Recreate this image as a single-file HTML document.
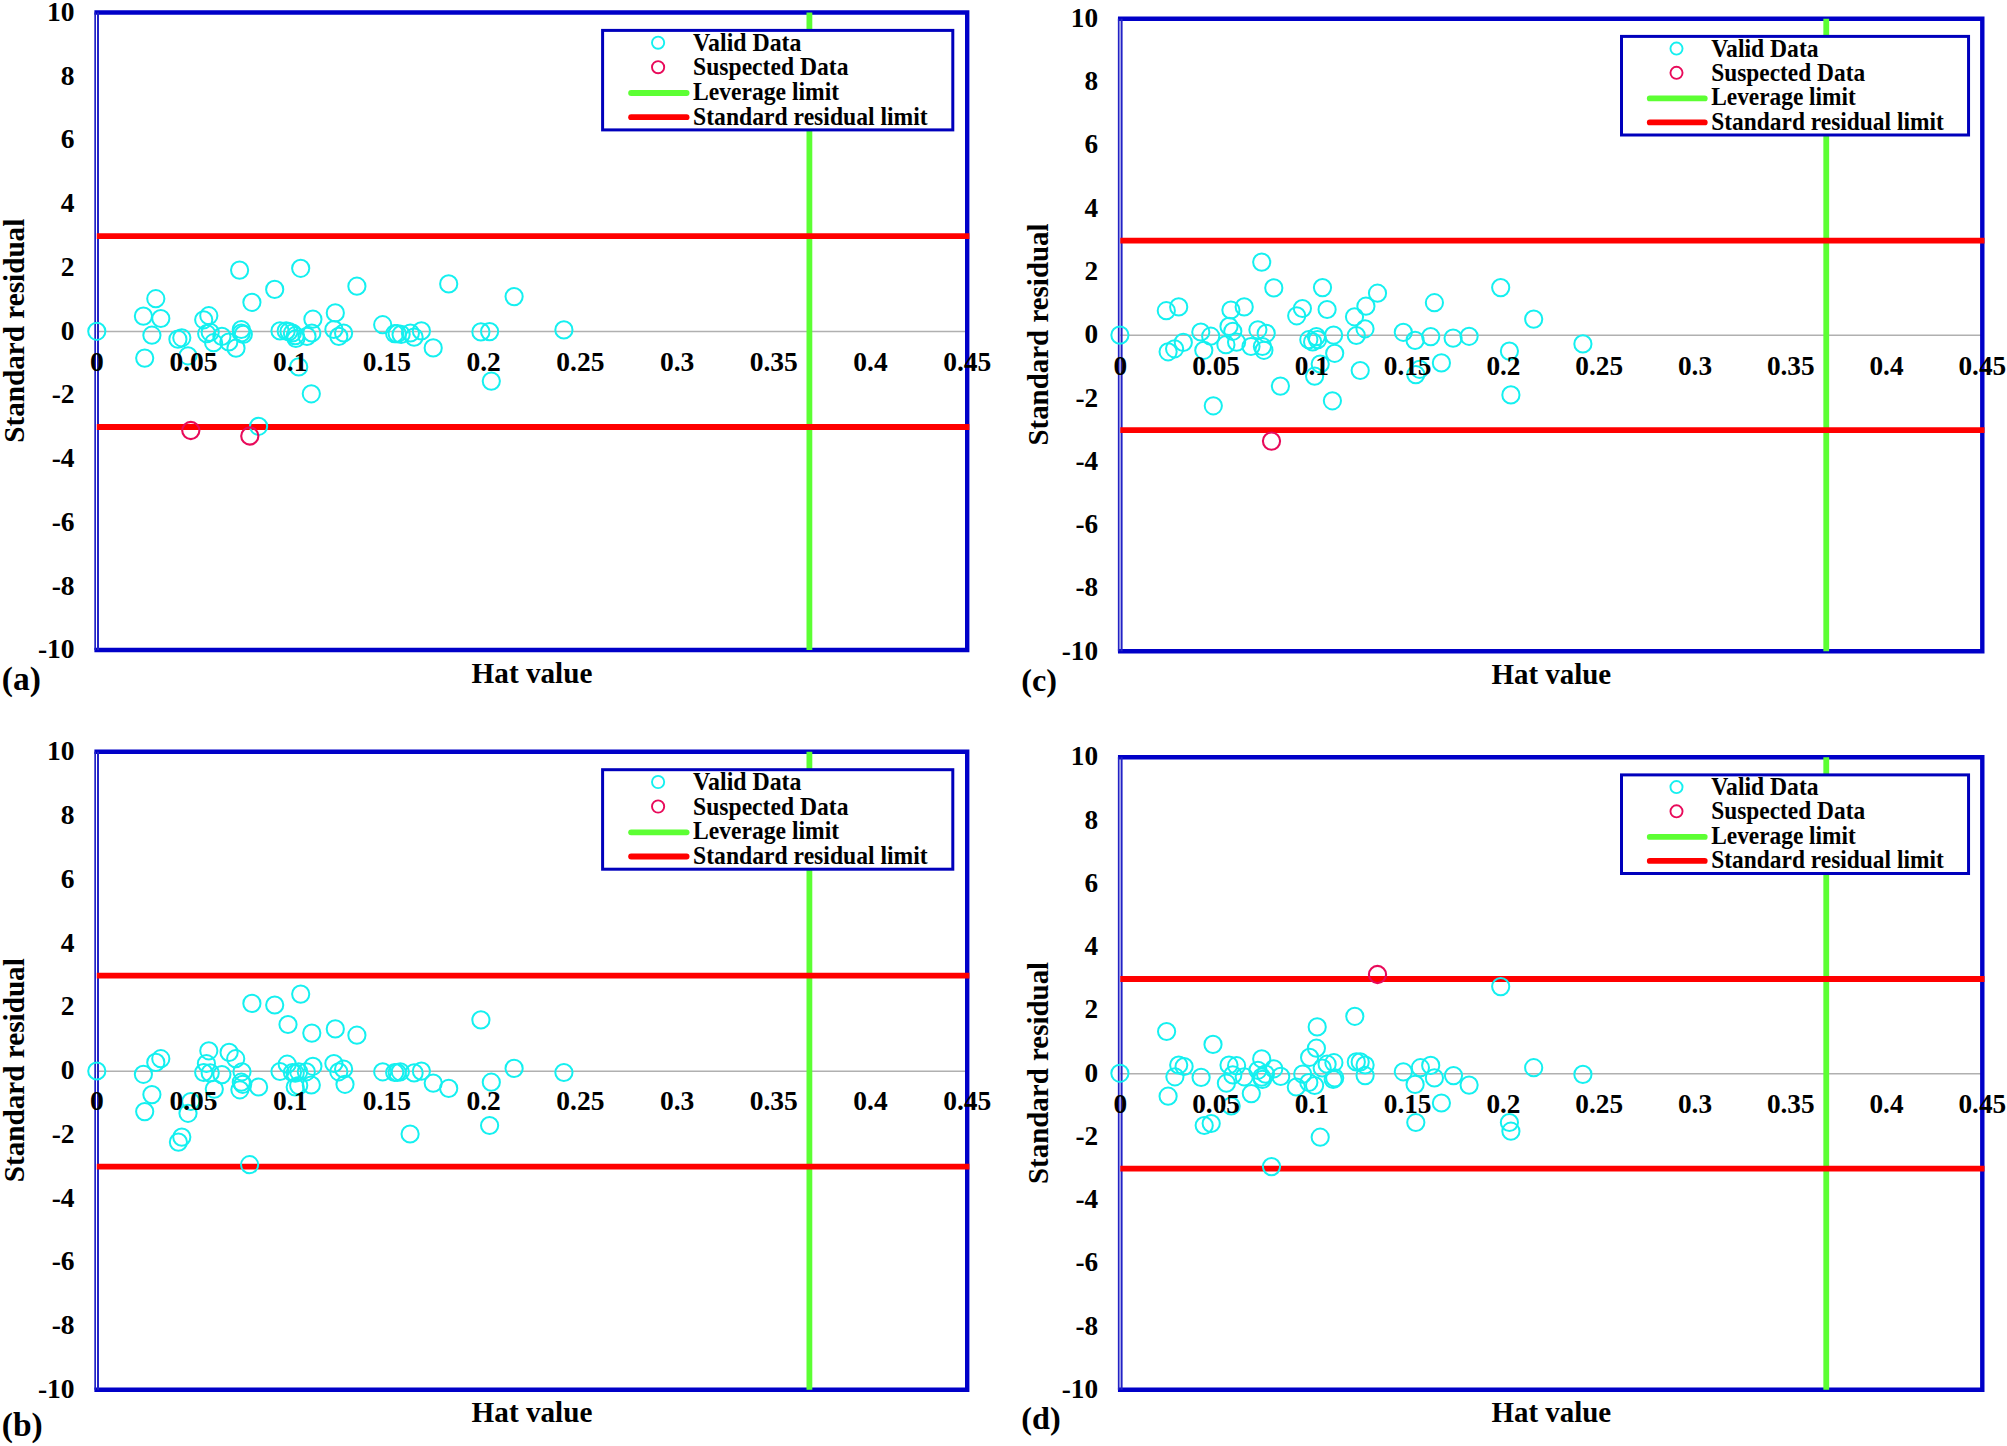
<!DOCTYPE html>
<html lang="en"><head><meta charset="utf-8"><title>Standard residual vs Hat value</title>
<style>html,body{margin:0;padding:0;background:#fff}svg{display:block}</style></head>
<body>
<svg width="2007" height="1446" viewBox="0 0 2007 1446" font-family='"Liberation Serif", "DejaVu Serif", serif' font-weight="bold" fill="#000">
<rect width="2007" height="1446" fill="#fff"/>
<g id="panel-a">
<line x1="96.8" y1="331.55" x2="967.2" y2="331.55" stroke="#B0B0B0" stroke-width="1.5"/>
<path d="M94.4 12.5H967.2V650H94.4" fill="none" stroke="#0000C8" stroke-width="4.4" stroke-linejoin="miter"/>
<line x1="95.15" y1="12.5" x2="95.15" y2="650" stroke="#2222C6" stroke-width="1.7"/>
<line x1="98" y1="12.5" x2="98" y2="650" stroke="#2222C6" stroke-width="2"/>
<line x1="809.4" y1="12.5" x2="809.4" y2="650" stroke="#5CFF33" stroke-width="5.8"/>
<line x1="96.8" y1="236.09" x2="969.4" y2="236.09" stroke="#FF0000" stroke-width="5.8"/>
<line x1="96.8" y1="427.01" x2="969.4" y2="427.01" stroke="#FF0000" stroke-width="5.8"/>
<circle cx="96.8" cy="331.3" r="8.6" fill="none" stroke="#14F0F0" stroke-width="2"/>
<circle cx="155.8" cy="298.7" r="8.6" fill="none" stroke="#14F0F0" stroke-width="2"/>
<circle cx="143.4" cy="316.1" r="8.6" fill="none" stroke="#14F0F0" stroke-width="2"/>
<circle cx="160.8" cy="318.5" r="8.6" fill="none" stroke="#14F0F0" stroke-width="2"/>
<circle cx="151.9" cy="335.2" r="8.6" fill="none" stroke="#14F0F0" stroke-width="2"/>
<circle cx="144.7" cy="358.1" r="8.6" fill="none" stroke="#14F0F0" stroke-width="2"/>
<circle cx="177.9" cy="339.2" r="8.6" fill="none" stroke="#14F0F0" stroke-width="2"/>
<circle cx="181.8" cy="337.8" r="8.6" fill="none" stroke="#14F0F0" stroke-width="2"/>
<circle cx="188" cy="355.8" r="8.6" fill="none" stroke="#14F0F0" stroke-width="2"/>
<circle cx="203.7" cy="319.8" r="8.6" fill="none" stroke="#14F0F0" stroke-width="2"/>
<circle cx="208.8" cy="315.7" r="8.6" fill="none" stroke="#14F0F0" stroke-width="2"/>
<circle cx="206.7" cy="333.7" r="8.6" fill="none" stroke="#14F0F0" stroke-width="2"/>
<circle cx="210.2" cy="332.3" r="8.6" fill="none" stroke="#14F0F0" stroke-width="2"/>
<circle cx="213.6" cy="342.7" r="8.6" fill="none" stroke="#14F0F0" stroke-width="2"/>
<circle cx="221.9" cy="336.4" r="8.6" fill="none" stroke="#14F0F0" stroke-width="2"/>
<circle cx="228.8" cy="342" r="8.6" fill="none" stroke="#14F0F0" stroke-width="2"/>
<circle cx="236" cy="348.2" r="8.6" fill="none" stroke="#14F0F0" stroke-width="2"/>
<circle cx="239.6" cy="270.1" r="8.6" fill="none" stroke="#14F0F0" stroke-width="2"/>
<circle cx="241.3" cy="329.5" r="8.6" fill="none" stroke="#14F0F0" stroke-width="2"/>
<circle cx="241.3" cy="333" r="8.6" fill="none" stroke="#14F0F0" stroke-width="2"/>
<circle cx="243.3" cy="334.4" r="8.6" fill="none" stroke="#14F0F0" stroke-width="2"/>
<circle cx="251.9" cy="302.3" r="8.6" fill="none" stroke="#14F0F0" stroke-width="2"/>
<circle cx="274.7" cy="289.4" r="8.6" fill="none" stroke="#14F0F0" stroke-width="2"/>
<circle cx="300.7" cy="268.3" r="8.6" fill="none" stroke="#14F0F0" stroke-width="2"/>
<circle cx="280" cy="330.9" r="8.6" fill="none" stroke="#14F0F0" stroke-width="2"/>
<circle cx="286.2" cy="330.9" r="8.6" fill="none" stroke="#14F0F0" stroke-width="2"/>
<circle cx="289" cy="331.6" r="8.6" fill="none" stroke="#14F0F0" stroke-width="2"/>
<circle cx="292.4" cy="333" r="8.6" fill="none" stroke="#14F0F0" stroke-width="2"/>
<circle cx="295.2" cy="335.7" r="8.6" fill="none" stroke="#14F0F0" stroke-width="2"/>
<circle cx="295.9" cy="338.5" r="8.6" fill="none" stroke="#14F0F0" stroke-width="2"/>
<circle cx="298.7" cy="366.9" r="8.6" fill="none" stroke="#14F0F0" stroke-width="2"/>
<circle cx="307" cy="336.4" r="8.6" fill="none" stroke="#14F0F0" stroke-width="2"/>
<circle cx="311.8" cy="333" r="8.6" fill="none" stroke="#14F0F0" stroke-width="2"/>
<circle cx="312.9" cy="319.2" r="8.6" fill="none" stroke="#14F0F0" stroke-width="2"/>
<circle cx="311.3" cy="393.8" r="8.6" fill="none" stroke="#14F0F0" stroke-width="2"/>
<circle cx="335.3" cy="312.9" r="8.6" fill="none" stroke="#14F0F0" stroke-width="2"/>
<circle cx="333.9" cy="329.5" r="8.6" fill="none" stroke="#14F0F0" stroke-width="2"/>
<circle cx="338.8" cy="336.4" r="8.6" fill="none" stroke="#14F0F0" stroke-width="2"/>
<circle cx="343.6" cy="333" r="8.6" fill="none" stroke="#14F0F0" stroke-width="2"/>
<circle cx="258.6" cy="426.3" r="8.6" fill="none" stroke="#14F0F0" stroke-width="2"/>
<circle cx="356.9" cy="286.2" r="8.6" fill="none" stroke="#14F0F0" stroke-width="2"/>
<circle cx="382.7" cy="324.7" r="8.6" fill="none" stroke="#14F0F0" stroke-width="2"/>
<circle cx="394.7" cy="333.7" r="8.6" fill="none" stroke="#14F0F0" stroke-width="2"/>
<circle cx="397.2" cy="333.7" r="8.6" fill="none" stroke="#14F0F0" stroke-width="2"/>
<circle cx="401.1" cy="334.4" r="8.6" fill="none" stroke="#14F0F0" stroke-width="2"/>
<circle cx="410.4" cy="333" r="8.6" fill="none" stroke="#14F0F0" stroke-width="2"/>
<circle cx="414.1" cy="337.1" r="8.6" fill="none" stroke="#14F0F0" stroke-width="2"/>
<circle cx="421.4" cy="330.9" r="8.6" fill="none" stroke="#14F0F0" stroke-width="2"/>
<circle cx="433.2" cy="347.9" r="8.6" fill="none" stroke="#14F0F0" stroke-width="2"/>
<circle cx="448.7" cy="283.9" r="8.6" fill="none" stroke="#14F0F0" stroke-width="2"/>
<circle cx="480.9" cy="331.9" r="8.6" fill="none" stroke="#14F0F0" stroke-width="2"/>
<circle cx="489.6" cy="331.6" r="8.6" fill="none" stroke="#14F0F0" stroke-width="2"/>
<circle cx="491.3" cy="381.1" r="8.6" fill="none" stroke="#14F0F0" stroke-width="2"/>
<circle cx="514.1" cy="296.6" r="8.6" fill="none" stroke="#14F0F0" stroke-width="2"/>
<circle cx="563.9" cy="329.9" r="8.6" fill="none" stroke="#14F0F0" stroke-width="2"/>
<circle cx="190.8" cy="430.5" r="8.6" fill="none" stroke="#E80A5A" stroke-width="2.1"/>
<circle cx="249.8" cy="436" r="8.6" fill="none" stroke="#E80A5A" stroke-width="2.1"/>
<text x="74.6" y="20.84" font-size="27.5" text-anchor="end">10</text>
<text x="74.6" y="84.59" font-size="27.5" text-anchor="end">8</text>
<text x="74.6" y="148.34" font-size="27.5" text-anchor="end">6</text>
<text x="74.6" y="212.09" font-size="27.5" text-anchor="end">4</text>
<text x="74.6" y="275.85" font-size="27.5" text-anchor="end">2</text>
<text x="74.6" y="339.6" font-size="27.5" text-anchor="end">0</text>
<text x="74.6" y="403.35" font-size="27.5" text-anchor="end">-2</text>
<text x="74.6" y="467.1" font-size="27.5" text-anchor="end">-4</text>
<text x="74.6" y="530.85" font-size="27.5" text-anchor="end">-6</text>
<text x="74.6" y="594.6" font-size="27.5" text-anchor="end">-8</text>
<text x="74.6" y="658.35" font-size="27.5" text-anchor="end">-10</text>
<text x="96.8" y="370.85" font-size="27.5" text-anchor="middle">0</text>
<text x="193.51" y="370.85" font-size="27.5" text-anchor="middle">0.05</text>
<text x="290.22" y="370.85" font-size="27.5" text-anchor="middle">0.1</text>
<text x="386.93" y="370.85" font-size="27.5" text-anchor="middle">0.15</text>
<text x="483.64" y="370.85" font-size="27.5" text-anchor="middle">0.2</text>
<text x="580.36" y="370.85" font-size="27.5" text-anchor="middle">0.25</text>
<text x="677.07" y="370.85" font-size="27.5" text-anchor="middle">0.3</text>
<text x="773.78" y="370.85" font-size="27.5" text-anchor="middle">0.35</text>
<text x="870.49" y="370.85" font-size="27.5" text-anchor="middle">0.4</text>
<text x="967.2" y="370.85" font-size="27.5" text-anchor="middle">0.45</text>
<text x="532" y="682.6" font-size="29.2" text-anchor="middle">Hat value</text>
<text transform="translate(24.4 330.75) rotate(-90)" font-size="29.2" text-anchor="middle">Standard residual</text>
<text x="1.8" y="690.2" font-size="33.5">(a)</text>
<rect x="602.6" y="30.4" width="350.2" height="99.5" fill="#fff" stroke="#0000BC" stroke-width="3"/>
<circle cx="658.1" cy="42.7" r="6.1" fill="none" stroke="#14F0F0" stroke-width="1.9"/>
<circle cx="658.1" cy="67.2" r="6.1" fill="none" stroke="#E80A5A" stroke-width="1.9"/>
<line x1="631.1" y1="93" x2="686.6" y2="93" stroke="#5CFF33" stroke-width="5.8" stroke-linecap="round"/>
<line x1="631.1" y1="117.2" x2="686.6" y2="117.2" stroke="#FF0000" stroke-width="5.8" stroke-linecap="round"/>
<text transform="translate(693.1 50.7) scale(0.9235 1)" font-size="25.8">Valid Data</text>
<text transform="translate(693.1 75.3) scale(0.9148 1)" font-size="25.8">Suspected Data</text>
<text transform="translate(693.1 99.9) scale(0.9138 1)" font-size="25.8">Leverage limit</text>
<text transform="translate(693.1 124.5) scale(0.9163 1)" font-size="25.8">Standard residual limit</text>
</g>
<g id="panel-b">
<line x1="96.8" y1="1071.15" x2="967.2" y2="1071.15" stroke="#B0B0B0" stroke-width="1.5"/>
<path d="M94.4 751.8H967.2V1389.7H94.4" fill="none" stroke="#0000C8" stroke-width="4.4" stroke-linejoin="miter"/>
<line x1="95.15" y1="751.8" x2="95.15" y2="1389.7" stroke="#2222C6" stroke-width="1.7"/>
<line x1="98" y1="751.8" x2="98" y2="1389.7" stroke="#2222C6" stroke-width="2"/>
<line x1="809.4" y1="751.8" x2="809.4" y2="1389.7" stroke="#5CFF33" stroke-width="5.8"/>
<line x1="96.8" y1="975.6" x2="969.4" y2="975.6" stroke="#FF0000" stroke-width="5.8"/>
<line x1="96.8" y1="1166.7" x2="969.4" y2="1166.7" stroke="#FF0000" stroke-width="5.8"/>
<circle cx="96.8" cy="1071" r="8.6" fill="none" stroke="#14F0F0" stroke-width="2"/>
<circle cx="143.4" cy="1074.3" r="8.6" fill="none" stroke="#14F0F0" stroke-width="2"/>
<circle cx="155.8" cy="1062.4" r="8.6" fill="none" stroke="#14F0F0" stroke-width="2"/>
<circle cx="160.8" cy="1058.7" r="8.6" fill="none" stroke="#14F0F0" stroke-width="2"/>
<circle cx="151.9" cy="1094.6" r="8.6" fill="none" stroke="#14F0F0" stroke-width="2"/>
<circle cx="144.7" cy="1111.6" r="8.6" fill="none" stroke="#14F0F0" stroke-width="2"/>
<circle cx="188" cy="1113.3" r="8.6" fill="none" stroke="#14F0F0" stroke-width="2"/>
<circle cx="190.8" cy="1101.5" r="8.6" fill="none" stroke="#14F0F0" stroke-width="2"/>
<circle cx="181.8" cy="1137.1" r="8.6" fill="none" stroke="#14F0F0" stroke-width="2"/>
<circle cx="178.4" cy="1142.1" r="8.6" fill="none" stroke="#14F0F0" stroke-width="2"/>
<circle cx="208.8" cy="1050.8" r="8.6" fill="none" stroke="#14F0F0" stroke-width="2"/>
<circle cx="206.4" cy="1063.5" r="8.6" fill="none" stroke="#14F0F0" stroke-width="2"/>
<circle cx="203.7" cy="1072.5" r="8.6" fill="none" stroke="#14F0F0" stroke-width="2"/>
<circle cx="210.2" cy="1072.9" r="8.6" fill="none" stroke="#14F0F0" stroke-width="2"/>
<circle cx="214.3" cy="1089.1" r="8.6" fill="none" stroke="#14F0F0" stroke-width="2"/>
<circle cx="221.9" cy="1074.6" r="8.6" fill="none" stroke="#14F0F0" stroke-width="2"/>
<circle cx="229.1" cy="1052.4" r="8.6" fill="none" stroke="#14F0F0" stroke-width="2"/>
<circle cx="235.7" cy="1058.7" r="8.6" fill="none" stroke="#14F0F0" stroke-width="2"/>
<circle cx="242" cy="1071.8" r="8.6" fill="none" stroke="#14F0F0" stroke-width="2"/>
<circle cx="241.3" cy="1082.2" r="8.6" fill="none" stroke="#14F0F0" stroke-width="2"/>
<circle cx="242.7" cy="1084.3" r="8.6" fill="none" stroke="#14F0F0" stroke-width="2"/>
<circle cx="239.9" cy="1089.8" r="8.6" fill="none" stroke="#14F0F0" stroke-width="2"/>
<circle cx="258.6" cy="1087" r="8.6" fill="none" stroke="#14F0F0" stroke-width="2"/>
<circle cx="251.9" cy="1003.4" r="8.6" fill="none" stroke="#14F0F0" stroke-width="2"/>
<circle cx="274.7" cy="1005" r="8.6" fill="none" stroke="#14F0F0" stroke-width="2"/>
<circle cx="300.7" cy="994.1" r="8.6" fill="none" stroke="#14F0F0" stroke-width="2"/>
<circle cx="288" cy="1024.5" r="8.6" fill="none" stroke="#14F0F0" stroke-width="2"/>
<circle cx="311.8" cy="1033.1" r="8.6" fill="none" stroke="#14F0F0" stroke-width="2"/>
<circle cx="335.3" cy="1028.9" r="8.6" fill="none" stroke="#14F0F0" stroke-width="2"/>
<circle cx="280" cy="1071.5" r="8.6" fill="none" stroke="#14F0F0" stroke-width="2"/>
<circle cx="287.2" cy="1064.2" r="8.6" fill="none" stroke="#14F0F0" stroke-width="2"/>
<circle cx="292.4" cy="1072.5" r="8.6" fill="none" stroke="#14F0F0" stroke-width="2"/>
<circle cx="295.2" cy="1073.2" r="8.6" fill="none" stroke="#14F0F0" stroke-width="2"/>
<circle cx="298.7" cy="1071.8" r="8.6" fill="none" stroke="#14F0F0" stroke-width="2"/>
<circle cx="306.3" cy="1071.8" r="8.6" fill="none" stroke="#14F0F0" stroke-width="2"/>
<circle cx="312.9" cy="1066.3" r="8.6" fill="none" stroke="#14F0F0" stroke-width="2"/>
<circle cx="295.2" cy="1087" r="8.6" fill="none" stroke="#14F0F0" stroke-width="2"/>
<circle cx="298.7" cy="1085.6" r="8.6" fill="none" stroke="#14F0F0" stroke-width="2"/>
<circle cx="311.3" cy="1085" r="8.6" fill="none" stroke="#14F0F0" stroke-width="2"/>
<circle cx="333.9" cy="1063.5" r="8.6" fill="none" stroke="#14F0F0" stroke-width="2"/>
<circle cx="338.8" cy="1071.8" r="8.6" fill="none" stroke="#14F0F0" stroke-width="2"/>
<circle cx="343.6" cy="1069" r="8.6" fill="none" stroke="#14F0F0" stroke-width="2"/>
<circle cx="345" cy="1084.3" r="8.6" fill="none" stroke="#14F0F0" stroke-width="2"/>
<circle cx="249.6" cy="1164.7" r="8.6" fill="none" stroke="#14F0F0" stroke-width="2"/>
<circle cx="356.9" cy="1035.2" r="8.6" fill="none" stroke="#14F0F0" stroke-width="2"/>
<circle cx="382.7" cy="1071.8" r="8.6" fill="none" stroke="#14F0F0" stroke-width="2"/>
<circle cx="394.7" cy="1072.5" r="8.6" fill="none" stroke="#14F0F0" stroke-width="2"/>
<circle cx="397.2" cy="1072.5" r="8.6" fill="none" stroke="#14F0F0" stroke-width="2"/>
<circle cx="400.3" cy="1071.8" r="8.6" fill="none" stroke="#14F0F0" stroke-width="2"/>
<circle cx="414.1" cy="1072.9" r="8.6" fill="none" stroke="#14F0F0" stroke-width="2"/>
<circle cx="421.4" cy="1071.1" r="8.6" fill="none" stroke="#14F0F0" stroke-width="2"/>
<circle cx="433.2" cy="1083.1" r="8.6" fill="none" stroke="#14F0F0" stroke-width="2"/>
<circle cx="448.7" cy="1088.4" r="8.6" fill="none" stroke="#14F0F0" stroke-width="2"/>
<circle cx="410.1" cy="1134" r="8.6" fill="none" stroke="#14F0F0" stroke-width="2"/>
<circle cx="480.9" cy="1019.9" r="8.6" fill="none" stroke="#14F0F0" stroke-width="2"/>
<circle cx="491.3" cy="1082.2" r="8.6" fill="none" stroke="#14F0F0" stroke-width="2"/>
<circle cx="489.6" cy="1125.5" r="8.6" fill="none" stroke="#14F0F0" stroke-width="2"/>
<circle cx="514.1" cy="1068.4" r="8.6" fill="none" stroke="#14F0F0" stroke-width="2"/>
<circle cx="563.9" cy="1072.5" r="8.6" fill="none" stroke="#14F0F0" stroke-width="2"/>
<text x="74.6" y="760.14" font-size="27.5" text-anchor="end">10</text>
<text x="74.6" y="823.93" font-size="27.5" text-anchor="end">8</text>
<text x="74.6" y="887.73" font-size="27.5" text-anchor="end">6</text>
<text x="74.6" y="951.51" font-size="27.5" text-anchor="end">4</text>
<text x="74.6" y="1015.31" font-size="27.5" text-anchor="end">2</text>
<text x="74.6" y="1079.1" font-size="27.5" text-anchor="end">0</text>
<text x="74.6" y="1142.88" font-size="27.5" text-anchor="end">-2</text>
<text x="74.6" y="1206.67" font-size="27.5" text-anchor="end">-4</text>
<text x="74.6" y="1270.47" font-size="27.5" text-anchor="end">-6</text>
<text x="74.6" y="1334.26" font-size="27.5" text-anchor="end">-8</text>
<text x="74.6" y="1398.05" font-size="27.5" text-anchor="end">-10</text>
<text x="96.8" y="1110.35" font-size="27.5" text-anchor="middle">0</text>
<text x="193.51" y="1110.35" font-size="27.5" text-anchor="middle">0.05</text>
<text x="290.22" y="1110.35" font-size="27.5" text-anchor="middle">0.1</text>
<text x="386.93" y="1110.35" font-size="27.5" text-anchor="middle">0.15</text>
<text x="483.64" y="1110.35" font-size="27.5" text-anchor="middle">0.2</text>
<text x="580.36" y="1110.35" font-size="27.5" text-anchor="middle">0.25</text>
<text x="677.07" y="1110.35" font-size="27.5" text-anchor="middle">0.3</text>
<text x="773.78" y="1110.35" font-size="27.5" text-anchor="middle">0.35</text>
<text x="870.49" y="1110.35" font-size="27.5" text-anchor="middle">0.4</text>
<text x="967.2" y="1110.35" font-size="27.5" text-anchor="middle">0.45</text>
<text x="532" y="1422.3" font-size="29.2" text-anchor="middle">Hat value</text>
<text transform="translate(24.4 1070.25) rotate(-90)" font-size="29.2" text-anchor="middle">Standard residual</text>
<text x="1.8" y="1435.7" font-size="33.5">(b)</text>
<rect x="602.6" y="769.7" width="350.2" height="99.5" fill="#fff" stroke="#0000BC" stroke-width="3"/>
<circle cx="658.1" cy="782" r="6.1" fill="none" stroke="#14F0F0" stroke-width="1.9"/>
<circle cx="658.1" cy="806.5" r="6.1" fill="none" stroke="#E80A5A" stroke-width="1.9"/>
<line x1="631.1" y1="832.3" x2="686.6" y2="832.3" stroke="#5CFF33" stroke-width="5.8" stroke-linecap="round"/>
<line x1="631.1" y1="856.5" x2="686.6" y2="856.5" stroke="#FF0000" stroke-width="5.8" stroke-linecap="round"/>
<text transform="translate(693.1 790) scale(0.9235 1)" font-size="25.8">Valid Data</text>
<text transform="translate(693.1 814.6) scale(0.9148 1)" font-size="25.8">Suspected Data</text>
<text transform="translate(693.1 839.2) scale(0.9138 1)" font-size="25.8">Leverage limit</text>
<text transform="translate(693.1 863.8) scale(0.9163 1)" font-size="25.8">Standard residual limit</text>
</g>
<g id="panel-c">
<line x1="1120.3" y1="335.35" x2="1982.3" y2="335.35" stroke="#B0B0B0" stroke-width="1.5"/>
<path d="M1117.95 18.7H1982.3V651.3H1117.95" fill="none" stroke="#0000C8" stroke-width="4.4" stroke-linejoin="miter"/>
<line x1="1118.7" y1="18.7" x2="1118.7" y2="651.3" stroke="#2222C6" stroke-width="1.7"/>
<line x1="1121.6" y1="18.7" x2="1121.6" y2="651.3" stroke="#2222C6" stroke-width="2"/>
<line x1="1826.25" y1="18.7" x2="1826.25" y2="651.3" stroke="#5CFF33" stroke-width="5.8"/>
<line x1="1120.3" y1="240.55" x2="1984.5" y2="240.55" stroke="#FF0000" stroke-width="5.8"/>
<line x1="1120.3" y1="430.15" x2="1984.5" y2="430.15" stroke="#FF0000" stroke-width="5.8"/>
<circle cx="1119.9" cy="335.1" r="8.6" fill="none" stroke="#14F0F0" stroke-width="2"/>
<circle cx="1166.3" cy="310.7" r="8.6" fill="none" stroke="#14F0F0" stroke-width="2"/>
<circle cx="1178.7" cy="306.9" r="8.6" fill="none" stroke="#14F0F0" stroke-width="2"/>
<circle cx="1168.1" cy="351.8" r="8.6" fill="none" stroke="#14F0F0" stroke-width="2"/>
<circle cx="1174.6" cy="348.8" r="8.6" fill="none" stroke="#14F0F0" stroke-width="2"/>
<circle cx="1183.3" cy="342.4" r="8.6" fill="none" stroke="#14F0F0" stroke-width="2"/>
<circle cx="1200.8" cy="332" r="8.6" fill="none" stroke="#14F0F0" stroke-width="2"/>
<circle cx="1210.7" cy="336.2" r="8.6" fill="none" stroke="#14F0F0" stroke-width="2"/>
<circle cx="1203.8" cy="350.3" r="8.6" fill="none" stroke="#14F0F0" stroke-width="2"/>
<circle cx="1213.3" cy="405.8" r="8.6" fill="none" stroke="#14F0F0" stroke-width="2"/>
<circle cx="1230.9" cy="310" r="8.6" fill="none" stroke="#14F0F0" stroke-width="2"/>
<circle cx="1244.2" cy="306.9" r="8.6" fill="none" stroke="#14F0F0" stroke-width="2"/>
<circle cx="1229" cy="326.4" r="8.6" fill="none" stroke="#14F0F0" stroke-width="2"/>
<circle cx="1232.8" cy="331.3" r="8.6" fill="none" stroke="#14F0F0" stroke-width="2"/>
<circle cx="1225.9" cy="344.7" r="8.6" fill="none" stroke="#14F0F0" stroke-width="2"/>
<circle cx="1236.6" cy="342.2" r="8.6" fill="none" stroke="#14F0F0" stroke-width="2"/>
<circle cx="1251" cy="346.5" r="8.6" fill="none" stroke="#14F0F0" stroke-width="2"/>
<circle cx="1257.9" cy="329.8" r="8.6" fill="none" stroke="#14F0F0" stroke-width="2"/>
<circle cx="1266.2" cy="333.3" r="8.6" fill="none" stroke="#14F0F0" stroke-width="2"/>
<circle cx="1262.4" cy="346.5" r="8.6" fill="none" stroke="#14F0F0" stroke-width="2"/>
<circle cx="1263.9" cy="350.3" r="8.6" fill="none" stroke="#14F0F0" stroke-width="2"/>
<circle cx="1261.7" cy="262.1" r="8.6" fill="none" stroke="#14F0F0" stroke-width="2"/>
<circle cx="1273.8" cy="287.9" r="8.6" fill="none" stroke="#14F0F0" stroke-width="2"/>
<circle cx="1280.4" cy="386.1" r="8.6" fill="none" stroke="#14F0F0" stroke-width="2"/>
<circle cx="1296.7" cy="315.8" r="8.6" fill="none" stroke="#14F0F0" stroke-width="2"/>
<circle cx="1302.4" cy="308.5" r="8.6" fill="none" stroke="#14F0F0" stroke-width="2"/>
<circle cx="1322.5" cy="287.6" r="8.6" fill="none" stroke="#14F0F0" stroke-width="2"/>
<circle cx="1327.1" cy="309.5" r="8.6" fill="none" stroke="#14F0F0" stroke-width="2"/>
<circle cx="1308.8" cy="339.7" r="8.6" fill="none" stroke="#14F0F0" stroke-width="2"/>
<circle cx="1312.6" cy="341.9" r="8.6" fill="none" stroke="#14F0F0" stroke-width="2"/>
<circle cx="1316.4" cy="336.6" r="8.6" fill="none" stroke="#14F0F0" stroke-width="2"/>
<circle cx="1317.6" cy="339.7" r="8.6" fill="none" stroke="#14F0F0" stroke-width="2"/>
<circle cx="1333.6" cy="335.1" r="8.6" fill="none" stroke="#14F0F0" stroke-width="2"/>
<circle cx="1334.7" cy="353.3" r="8.6" fill="none" stroke="#14F0F0" stroke-width="2"/>
<circle cx="1320.2" cy="364" r="8.6" fill="none" stroke="#14F0F0" stroke-width="2"/>
<circle cx="1314.6" cy="376.2" r="8.6" fill="none" stroke="#14F0F0" stroke-width="2"/>
<circle cx="1332.4" cy="400.8" r="8.6" fill="none" stroke="#14F0F0" stroke-width="2"/>
<circle cx="1354.5" cy="316.8" r="8.6" fill="none" stroke="#14F0F0" stroke-width="2"/>
<circle cx="1356.3" cy="335.5" r="8.6" fill="none" stroke="#14F0F0" stroke-width="2"/>
<circle cx="1360.2" cy="370.5" r="8.6" fill="none" stroke="#14F0F0" stroke-width="2"/>
<circle cx="1365.9" cy="306.2" r="8.6" fill="none" stroke="#14F0F0" stroke-width="2"/>
<circle cx="1365" cy="328.8" r="8.6" fill="none" stroke="#14F0F0" stroke-width="2"/>
<circle cx="1377.5" cy="293.2" r="8.6" fill="none" stroke="#14F0F0" stroke-width="2"/>
<circle cx="1403.3" cy="332.3" r="8.6" fill="none" stroke="#14F0F0" stroke-width="2"/>
<circle cx="1415.1" cy="340.4" r="8.6" fill="none" stroke="#14F0F0" stroke-width="2"/>
<circle cx="1430.7" cy="336.6" r="8.6" fill="none" stroke="#14F0F0" stroke-width="2"/>
<circle cx="1453.1" cy="338.1" r="8.6" fill="none" stroke="#14F0F0" stroke-width="2"/>
<circle cx="1469.1" cy="336.3" r="8.6" fill="none" stroke="#14F0F0" stroke-width="2"/>
<circle cx="1434.4" cy="302.7" r="8.6" fill="none" stroke="#14F0F0" stroke-width="2"/>
<circle cx="1441.4" cy="362.9" r="8.6" fill="none" stroke="#14F0F0" stroke-width="2"/>
<circle cx="1415.8" cy="374.6" r="8.6" fill="none" stroke="#14F0F0" stroke-width="2"/>
<circle cx="1419.6" cy="369.3" r="8.6" fill="none" stroke="#14F0F0" stroke-width="2"/>
<circle cx="1500.7" cy="287.6" r="8.6" fill="none" stroke="#14F0F0" stroke-width="2"/>
<circle cx="1509.4" cy="351.1" r="8.6" fill="none" stroke="#14F0F0" stroke-width="2"/>
<circle cx="1510.9" cy="394.9" r="8.6" fill="none" stroke="#14F0F0" stroke-width="2"/>
<circle cx="1533.7" cy="319.1" r="8.6" fill="none" stroke="#14F0F0" stroke-width="2"/>
<circle cx="1582.9" cy="343.9" r="8.6" fill="none" stroke="#14F0F0" stroke-width="2"/>
<circle cx="1271.5" cy="441.1" r="8.6" fill="none" stroke="#E80A5A" stroke-width="2.1"/>
<text x="1098.1" y="26.96" font-size="27.25" text-anchor="end">10</text>
<text x="1098.1" y="90.22" font-size="27.25" text-anchor="end">8</text>
<text x="1098.1" y="153.48" font-size="27.25" text-anchor="end">6</text>
<text x="1098.1" y="216.74" font-size="27.25" text-anchor="end">4</text>
<text x="1098.1" y="280" font-size="27.25" text-anchor="end">2</text>
<text x="1098.1" y="343.26" font-size="27.25" text-anchor="end">0</text>
<text x="1098.1" y="406.52" font-size="27.25" text-anchor="end">-2</text>
<text x="1098.1" y="469.78" font-size="27.25" text-anchor="end">-4</text>
<text x="1098.1" y="533.04" font-size="27.25" text-anchor="end">-6</text>
<text x="1098.1" y="596.3" font-size="27.25" text-anchor="end">-8</text>
<text x="1098.1" y="659.56" font-size="27.25" text-anchor="end">-10</text>
<text x="1120.3" y="374.6" font-size="27.25" text-anchor="middle">0</text>
<text x="1216.08" y="374.6" font-size="27.25" text-anchor="middle">0.05</text>
<text x="1311.86" y="374.6" font-size="27.25" text-anchor="middle">0.1</text>
<text x="1407.63" y="374.6" font-size="27.25" text-anchor="middle">0.15</text>
<text x="1503.41" y="374.6" font-size="27.25" text-anchor="middle">0.2</text>
<text x="1599.19" y="374.6" font-size="27.25" text-anchor="middle">0.25</text>
<text x="1694.97" y="374.6" font-size="27.25" text-anchor="middle">0.3</text>
<text x="1790.74" y="374.6" font-size="27.25" text-anchor="middle">0.35</text>
<text x="1886.52" y="374.6" font-size="27.25" text-anchor="middle">0.4</text>
<text x="1982.3" y="374.6" font-size="27.25" text-anchor="middle">0.45</text>
<text x="1551.3" y="683.9" font-size="28.94" text-anchor="middle">Hat value</text>
<text transform="translate(1047.9 334.5) rotate(-90)" font-size="28.94" text-anchor="middle">Standard residual</text>
<text x="1021.3" y="691.4" font-size="32.2">(c)</text>
<rect x="1621.5" y="36.4" width="347.05" height="98.6" fill="#fff" stroke="#0000BC" stroke-width="3"/>
<circle cx="1676.5" cy="48.59" r="6.05" fill="none" stroke="#14F0F0" stroke-width="1.9"/>
<circle cx="1676.5" cy="72.87" r="6.05" fill="none" stroke="#E80A5A" stroke-width="1.9"/>
<line x1="1649.74" y1="98.44" x2="1704.74" y2="98.44" stroke="#5CFF33" stroke-width="5.75" stroke-linecap="round"/>
<line x1="1649.74" y1="122.42" x2="1704.74" y2="122.42" stroke="#FF0000" stroke-width="5.75" stroke-linecap="round"/>
<text transform="translate(1711.19 56.52) scale(0.9235 1)" font-size="25.57">Valid Data</text>
<text transform="translate(1711.19 80.9) scale(0.9148 1)" font-size="25.57">Suspected Data</text>
<text transform="translate(1711.19 105.27) scale(0.9138 1)" font-size="25.57">Leverage limit</text>
<text transform="translate(1711.19 129.65) scale(0.9163 1)" font-size="25.57">Standard residual limit</text>
</g>
<g id="panel-d">
<line x1="1120.3" y1="1073.8" x2="1982.3" y2="1073.8" stroke="#B0B0B0" stroke-width="1.5"/>
<path d="M1117.95 757.2H1982.3V1389.7H1117.95" fill="none" stroke="#0000C8" stroke-width="4.4" stroke-linejoin="miter"/>
<line x1="1118.7" y1="757.2" x2="1118.7" y2="1389.7" stroke="#2222C6" stroke-width="1.7"/>
<line x1="1121.6" y1="757.2" x2="1121.6" y2="1389.7" stroke="#2222C6" stroke-width="2"/>
<line x1="1826.25" y1="757.2" x2="1826.25" y2="1389.7" stroke="#5CFF33" stroke-width="5.8"/>
<line x1="1120.3" y1="979" x2="1984.5" y2="979" stroke="#FF0000" stroke-width="5.8"/>
<line x1="1120.3" y1="1168.6" x2="1984.5" y2="1168.6" stroke="#FF0000" stroke-width="5.8"/>
<circle cx="1119.9" cy="1073.3" r="8.6" fill="none" stroke="#14F0F0" stroke-width="2"/>
<circle cx="1166.6" cy="1031.5" r="8.6" fill="none" stroke="#14F0F0" stroke-width="2"/>
<circle cx="1168.1" cy="1096.2" r="8.6" fill="none" stroke="#14F0F0" stroke-width="2"/>
<circle cx="1174.9" cy="1076.8" r="8.6" fill="none" stroke="#14F0F0" stroke-width="2"/>
<circle cx="1178.7" cy="1065" r="8.6" fill="none" stroke="#14F0F0" stroke-width="2"/>
<circle cx="1184.1" cy="1066.5" r="8.6" fill="none" stroke="#14F0F0" stroke-width="2"/>
<circle cx="1201.1" cy="1077.4" r="8.6" fill="none" stroke="#14F0F0" stroke-width="2"/>
<circle cx="1213" cy="1044.4" r="8.6" fill="none" stroke="#14F0F0" stroke-width="2"/>
<circle cx="1204.2" cy="1125.5" r="8.6" fill="none" stroke="#14F0F0" stroke-width="2"/>
<circle cx="1211.2" cy="1123.5" r="8.6" fill="none" stroke="#14F0F0" stroke-width="2"/>
<circle cx="1229" cy="1065" r="8.6" fill="none" stroke="#14F0F0" stroke-width="2"/>
<circle cx="1236.6" cy="1065.7" r="8.6" fill="none" stroke="#14F0F0" stroke-width="2"/>
<circle cx="1232.8" cy="1074.9" r="8.6" fill="none" stroke="#14F0F0" stroke-width="2"/>
<circle cx="1226.4" cy="1083.2" r="8.6" fill="none" stroke="#14F0F0" stroke-width="2"/>
<circle cx="1231.2" cy="1106" r="8.6" fill="none" stroke="#14F0F0" stroke-width="2"/>
<circle cx="1244.2" cy="1076.8" r="8.6" fill="none" stroke="#14F0F0" stroke-width="2"/>
<circle cx="1251.3" cy="1093.6" r="8.6" fill="none" stroke="#14F0F0" stroke-width="2"/>
<circle cx="1261.7" cy="1058.9" r="8.6" fill="none" stroke="#14F0F0" stroke-width="2"/>
<circle cx="1257.9" cy="1070.3" r="8.6" fill="none" stroke="#14F0F0" stroke-width="2"/>
<circle cx="1261.7" cy="1077.1" r="8.6" fill="none" stroke="#14F0F0" stroke-width="2"/>
<circle cx="1265.5" cy="1074.1" r="8.6" fill="none" stroke="#14F0F0" stroke-width="2"/>
<circle cx="1262.4" cy="1079.4" r="8.6" fill="none" stroke="#14F0F0" stroke-width="2"/>
<circle cx="1273.8" cy="1068.8" r="8.6" fill="none" stroke="#14F0F0" stroke-width="2"/>
<circle cx="1280.7" cy="1076.4" r="8.6" fill="none" stroke="#14F0F0" stroke-width="2"/>
<circle cx="1271.5" cy="1166.6" r="8.6" fill="none" stroke="#14F0F0" stroke-width="2"/>
<circle cx="1296.3" cy="1087" r="8.6" fill="none" stroke="#14F0F0" stroke-width="2"/>
<circle cx="1302.7" cy="1074.1" r="8.6" fill="none" stroke="#14F0F0" stroke-width="2"/>
<circle cx="1309.6" cy="1057.4" r="8.6" fill="none" stroke="#14F0F0" stroke-width="2"/>
<circle cx="1308.8" cy="1082.5" r="8.6" fill="none" stroke="#14F0F0" stroke-width="2"/>
<circle cx="1314.6" cy="1085.5" r="8.6" fill="none" stroke="#14F0F0" stroke-width="2"/>
<circle cx="1316.4" cy="1048.2" r="8.6" fill="none" stroke="#14F0F0" stroke-width="2"/>
<circle cx="1317.2" cy="1026.9" r="8.6" fill="none" stroke="#14F0F0" stroke-width="2"/>
<circle cx="1322.2" cy="1068" r="8.6" fill="none" stroke="#14F0F0" stroke-width="2"/>
<circle cx="1327.1" cy="1064.2" r="8.6" fill="none" stroke="#14F0F0" stroke-width="2"/>
<circle cx="1333.9" cy="1062.7" r="8.6" fill="none" stroke="#14F0F0" stroke-width="2"/>
<circle cx="1320.2" cy="1137.2" r="8.6" fill="none" stroke="#14F0F0" stroke-width="2"/>
<circle cx="1333.2" cy="1079.4" r="8.6" fill="none" stroke="#14F0F0" stroke-width="2"/>
<circle cx="1334.7" cy="1077.9" r="8.6" fill="none" stroke="#14F0F0" stroke-width="2"/>
<circle cx="1354.8" cy="1016.3" r="8.6" fill="none" stroke="#14F0F0" stroke-width="2"/>
<circle cx="1356.3" cy="1061.9" r="8.6" fill="none" stroke="#14F0F0" stroke-width="2"/>
<circle cx="1360.2" cy="1061.9" r="8.6" fill="none" stroke="#14F0F0" stroke-width="2"/>
<circle cx="1365.1" cy="1065" r="8.6" fill="none" stroke="#14F0F0" stroke-width="2"/>
<circle cx="1365.1" cy="1075.6" r="8.6" fill="none" stroke="#14F0F0" stroke-width="2"/>
<circle cx="1403.3" cy="1071.8" r="8.6" fill="none" stroke="#14F0F0" stroke-width="2"/>
<circle cx="1415.1" cy="1084.4" r="8.6" fill="none" stroke="#14F0F0" stroke-width="2"/>
<circle cx="1420.4" cy="1067.7" r="8.6" fill="none" stroke="#14F0F0" stroke-width="2"/>
<circle cx="1430.7" cy="1065.4" r="8.6" fill="none" stroke="#14F0F0" stroke-width="2"/>
<circle cx="1434.4" cy="1077.9" r="8.6" fill="none" stroke="#14F0F0" stroke-width="2"/>
<circle cx="1453.5" cy="1075.6" r="8.6" fill="none" stroke="#14F0F0" stroke-width="2"/>
<circle cx="1469.1" cy="1085.1" r="8.6" fill="none" stroke="#14F0F0" stroke-width="2"/>
<circle cx="1441.4" cy="1103" r="8.6" fill="none" stroke="#14F0F0" stroke-width="2"/>
<circle cx="1415.8" cy="1122.5" r="8.6" fill="none" stroke="#14F0F0" stroke-width="2"/>
<circle cx="1500.7" cy="986.6" r="8.6" fill="none" stroke="#14F0F0" stroke-width="2"/>
<circle cx="1509.4" cy="1122.5" r="8.6" fill="none" stroke="#14F0F0" stroke-width="2"/>
<circle cx="1510.9" cy="1131.2" r="8.6" fill="none" stroke="#14F0F0" stroke-width="2"/>
<circle cx="1533.7" cy="1067.7" r="8.6" fill="none" stroke="#14F0F0" stroke-width="2"/>
<circle cx="1582.9" cy="1074.4" r="8.6" fill="none" stroke="#14F0F0" stroke-width="2"/>
<circle cx="1377.5" cy="974.5" r="8.6" fill="none" stroke="#E80A5A" stroke-width="2.1"/>
<text x="1098.1" y="765.46" font-size="27.25" text-anchor="end">10</text>
<text x="1098.1" y="828.71" font-size="27.25" text-anchor="end">8</text>
<text x="1098.1" y="891.96" font-size="27.25" text-anchor="end">6</text>
<text x="1098.1" y="955.21" font-size="27.25" text-anchor="end">4</text>
<text x="1098.1" y="1018.46" font-size="27.25" text-anchor="end">2</text>
<text x="1098.1" y="1081.71" font-size="27.25" text-anchor="end">0</text>
<text x="1098.1" y="1144.96" font-size="27.25" text-anchor="end">-2</text>
<text x="1098.1" y="1208.21" font-size="27.25" text-anchor="end">-4</text>
<text x="1098.1" y="1271.46" font-size="27.25" text-anchor="end">-6</text>
<text x="1098.1" y="1334.71" font-size="27.25" text-anchor="end">-8</text>
<text x="1098.1" y="1397.96" font-size="27.25" text-anchor="end">-10</text>
<text x="1120.3" y="1113.05" font-size="27.25" text-anchor="middle">0</text>
<text x="1216.08" y="1113.05" font-size="27.25" text-anchor="middle">0.05</text>
<text x="1311.86" y="1113.05" font-size="27.25" text-anchor="middle">0.1</text>
<text x="1407.63" y="1113.05" font-size="27.25" text-anchor="middle">0.15</text>
<text x="1503.41" y="1113.05" font-size="27.25" text-anchor="middle">0.2</text>
<text x="1599.19" y="1113.05" font-size="27.25" text-anchor="middle">0.25</text>
<text x="1694.97" y="1113.05" font-size="27.25" text-anchor="middle">0.3</text>
<text x="1790.74" y="1113.05" font-size="27.25" text-anchor="middle">0.35</text>
<text x="1886.52" y="1113.05" font-size="27.25" text-anchor="middle">0.4</text>
<text x="1982.3" y="1113.05" font-size="27.25" text-anchor="middle">0.45</text>
<text x="1551.3" y="1422.3" font-size="28.94" text-anchor="middle">Hat value</text>
<text transform="translate(1047.9 1072.95) rotate(-90)" font-size="28.94" text-anchor="middle">Standard residual</text>
<text x="1021.3" y="1429" font-size="32.2">(d)</text>
<rect x="1621.5" y="774.9" width="347.05" height="98.6" fill="#fff" stroke="#0000BC" stroke-width="3"/>
<circle cx="1676.5" cy="787.09" r="6.05" fill="none" stroke="#14F0F0" stroke-width="1.9"/>
<circle cx="1676.5" cy="811.37" r="6.05" fill="none" stroke="#E80A5A" stroke-width="1.9"/>
<line x1="1649.74" y1="836.94" x2="1704.74" y2="836.94" stroke="#5CFF33" stroke-width="5.75" stroke-linecap="round"/>
<line x1="1649.74" y1="860.92" x2="1704.74" y2="860.92" stroke="#FF0000" stroke-width="5.75" stroke-linecap="round"/>
<text transform="translate(1711.19 795.02) scale(0.9235 1)" font-size="25.57">Valid Data</text>
<text transform="translate(1711.19 819.4) scale(0.9148 1)" font-size="25.57">Suspected Data</text>
<text transform="translate(1711.19 843.77) scale(0.9138 1)" font-size="25.57">Leverage limit</text>
<text transform="translate(1711.19 868.15) scale(0.9163 1)" font-size="25.57">Standard residual limit</text>
</g>
</svg>
</body></html>
